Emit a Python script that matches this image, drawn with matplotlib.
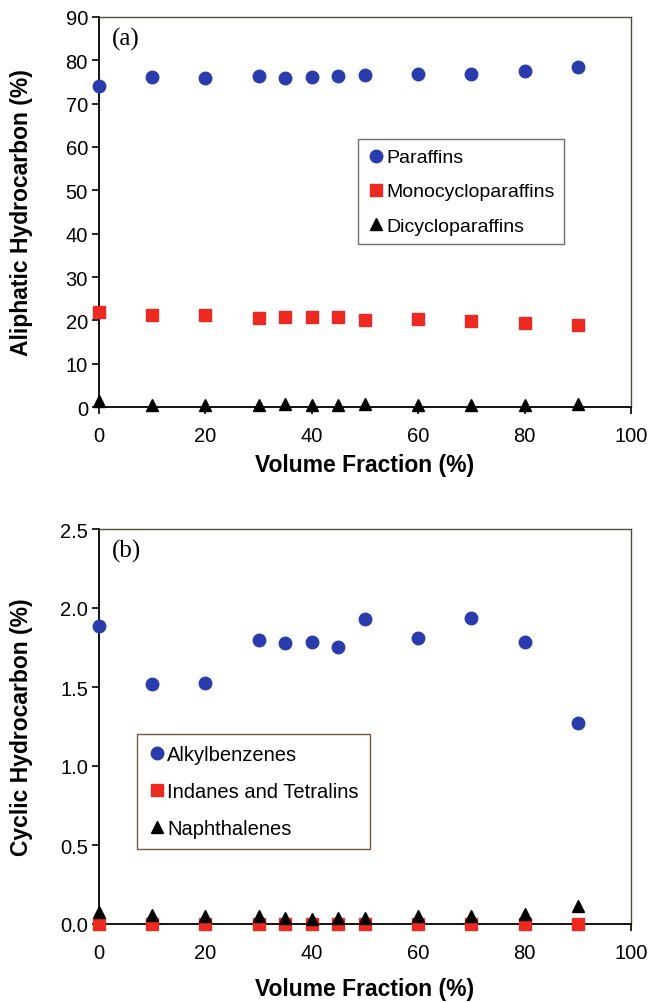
import matplotlib
matplotlib.use('Agg')
import matplotlib.pyplot as plt

# volume fraction (%)
vol_frac = [0, 10, 20, 30, 35, 40, 45, 50, 60, 70, 80, 90]

# (a) aliphatic hydrocarbon (%)
paraffins          = [74.1, 76.2, 76.0, 76.3, 75.9, 76.2, 76.3, 76.6, 76.8, 76.9, 77.5, 78.4]
monocycloparaffins = [21.9, 21.3, 21.2, 20.6, 20.8, 20.8, 20.8, 20.1, 20.2, 19.9, 19.5, 19.0]
dicycloparaffins   = [1.5, 0.4, 0.5, 0.5, 0.8, 0.5, 0.5, 0.6, 0.4, 0.4, 0.5, 0.6]

# (b) cyclic hydrocarbon (%)
alkylbenzenes = [1.885, 1.516, 1.525, 1.799, 1.780, 1.784, 1.754, 1.933, 1.809, 1.938, 1.784, 1.274]
indanes_tetralins = [0.0, 0.0, 0.0, 0.0, 0.0, 0.0, 0.0, 0.0, 0.0, 0.0, 0.0, 0.0]
naphthalenes = [0.074, 0.057, 0.053, 0.048, 0.038, 0.032, 0.036, 0.040, 0.048, 0.053, 0.063, 0.112]

BLUE = '#2a3cad'
RED = '#ec2a22'
FRAME = '#4d4d40'

plt.rcParams['font.family'] = ['Liberation Sans', 'DejaVu Sans']

fig = plt.figure(figsize=(6.56, 10.03), dpi=100)
W, H = 656.0, 1003.0
ax1 = fig.add_axes([99 / W, 1 - 408 / H, (631 - 99) / W, (408 - 18) / H])
ax2 = fig.add_axes([99 / W, 1 - 925 / H, (631 - 99) / W, (925 - 530) / H])


def style_axes(ax, ylim, yticks, ylabel, fmt, panel, xlab_y):
    ax.set_xlim(0, 100)
    ax.set_ylim(*ylim)
    ax.set_xticks(range(0, 101, 20))
    ax.set_yticks(yticks)
    ax.set_yticklabels([fmt.format(v) for v in yticks])
    ax.tick_params(direction='out', length=5, width=1.2, labelsize=14.5, pad=3)
    ax.tick_params(axis='x', pad=9)
    for side in ['left', 'bottom']:
        ax.spines[side].set_color('black')
        ax.spines[side].set_linewidth(1.3)
    for side in ['top', 'right']:
        ax.spines[side].set_color(FRAME)
        ax.spines[side].set_linewidth(1.0)
    ax.set_ylabel(ylabel, fontsize=16.5, fontweight='bold')
    ax.yaxis.set_label_coords(-(99 - 33) / 532.0, 0.5)
    ax.set_xlabel('Volume Fraction (%)', fontsize=16.5, fontweight='bold')
    ax.xaxis.set_label_coords(0.5, xlab_y)
    ax.text(0.024, 0.945, panel, transform=ax.transAxes, fontsize=18,
            family=['Liberation Serif'], va='center', ha='left')


def style_legend(leg, edge):
    leg.get_frame().set_edgecolor(edge)
    leg.get_frame().set_linewidth(1.0)


# ---- (a) ----
ax1.plot(vol_frac, paraffins, 'o', color=BLUE, ms=9, label='Paraffins', clip_on=False, zorder=3)
ax1.plot(vol_frac, monocycloparaffins, 's', color=RED, ms=9, label='Monocycloparaffins', clip_on=False, zorder=3)
ax1.plot(vol_frac, dicycloparaffins, '^', color='black', ms=9, label='Dicycloparaffins', clip_on=False, zorder=4)
style_axes(ax1, (0, 90), range(0, 91, 10), 'Aliphatic Hydrocarbon (%)', '{:d}', '(a)', -0.118)
leg1 = ax1.legend(loc='upper left', bbox_to_anchor=(259 / 532, 1 - 122 / 390), fontsize=14,
                  frameon=True, fancybox=False, handletextpad=0.05, handlelength=0.9,
                  labelspacing=0.85, borderpad=0.5, borderaxespad=0)
style_legend(leg1, FRAME)

# ---- (b) ----
ax2.plot(vol_frac, alkylbenzenes, 'o', color=BLUE, ms=9, label='Alkylbenzenes', clip_on=False, zorder=3)
ax2.plot(vol_frac, indanes_tetralins, 's', color=RED, ms=8, label='Indanes and Tetralins', clip_on=False, zorder=3)
ax2.plot(vol_frac, naphthalenes, '^', color='black', ms=9, label='Naphthalenes', clip_on=False, zorder=4)
style_axes(ax2, (0, 2.5), [0, 0.5, 1.0, 1.5, 2.0, 2.5], 'Cyclic Hydrocarbon (%)', '{:.1f}', '(b)', -0.135)
leg2 = ax2.legend(loc='upper left', bbox_to_anchor=(38 / 532, 1 - 205 / 395), fontsize=14.5,
                  frameon=True, fancybox=False, handletextpad=0.05, handlelength=0.9,
                  labelspacing=0.9, borderpad=0.55, borderaxespad=0)
style_legend(leg2, '#5a2a10')

fig.savefig('out.png', dpi=100)
